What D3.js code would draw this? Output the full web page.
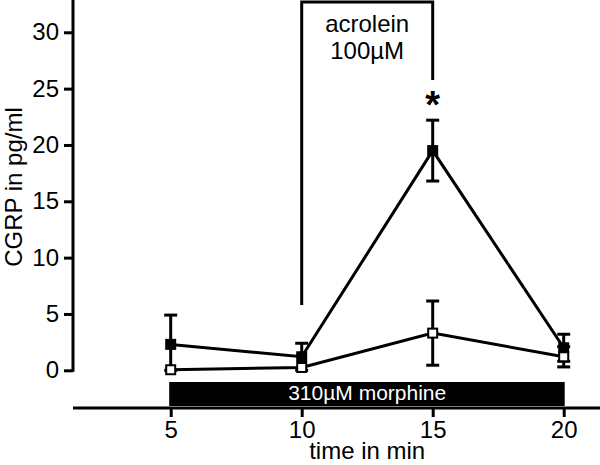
<!DOCTYPE html>
<html>
<head>
<meta charset="utf-8">
<script src="https://cdn.jsdelivr.net/npm/d3@7"></script>
<style>
  body { margin: 0; background: #fff; }
  svg { display: block; font-family: "Liberation Sans", Arial, sans-serif; }
</style>
</head>
<body>
<svg id="chart"></svg>
<script>
// time points (min)
const times = [5, 10, 15, 20]
// acrolein, filled squares
const acrolein = [2.3, 1.2, 19.5, 2.0]
const acroleinErr = [2.6, 1.2, 2.7, 1.2]
// control, open squares
const control = [0.05, 0.25, 3.3, 1.2]
const controlErr = [0, 0, 2.85, 0.9]
const yTicks = [0, 5, 10, 15, 20, 25, 30]

const w = 600, h = 465
const sw = 3
const svg = d3.select('#chart').attr('width', w).attr('height', h)

const x = d3.scaleLinear().domain([5, 20]).range([170.7, 563.7])
const y = d3.scaleLinear().domain([0, 30]).range([370.3, 32.3])

// y axis
const yAxis = d3.axisLeft(y).tickValues(yTicks).tickSize(9).tickPadding(5)
const gy = svg.append('g').attr('transform', 'translate(73,0)').call(yAxis)
gy.select('.domain').remove()
gy.append('line').attr('x1', 0).attr('x2', 0).attr('y1', 0).attr('y2', y(0) + 1.5)
  .attr('stroke', '#000').attr('stroke-width', sw)
gy.selectAll('.tick line').attr('stroke-width', sw)
gy.selectAll('.tick text').attr('font-size', 24).attr('fill', '#000')

// x axis
const xAxis = d3.axisBottom(x).tickValues(times).tickSize(9).tickPadding(4)
const gx = svg.append('g').attr('transform', 'translate(0,408)').call(xAxis)
gx.select('.domain').remove()
gx.append('line').attr('x1', 73).attr('x2', w).attr('y1', 0).attr('y2', 0)
  .attr('stroke', '#000').attr('stroke-width', sw)
gx.selectAll('.tick line').attr('stroke-width', sw)
gx.selectAll('.tick text').attr('font-size', 24).attr('fill', '#000')

svg.append('text').attr('x', x(12.5)).attr('y', 459).attr('text-anchor', 'middle')
  .attr('font-size', 24).text('time in min')
svg.append('text').attr('transform', `translate(22,${187}) rotate(-90)`)
  .attr('text-anchor', 'middle').attr('font-size', 24).text('CGRP in pg/ml')

// morphine bar
svg.append('rect').attr('x', x(5) - 1.5).attr('y', 382).attr('width', x(20) - x(5) + 2.5).attr('height', 24)
  .attr('fill', '#000')
svg.append('text').attr('x', x(12.5)).attr('y', 400).attr('text-anchor', 'middle')
  .attr('font-size', 21).attr('fill', '#fff').text('310µM morphine')

// acrolein bracket
svg.append('path')
  .attr('d', `M${x(10)},${y(5.8)}V2H${x(15)}V80`)
  .attr('fill', 'none').attr('stroke', '#000').attr('stroke-width', sw)
svg.append('text').attr('x', x(12.5)).attr('y', 32).attr('text-anchor', 'middle')
  .attr('font-size', 24).text('acrolein')
svg.append('text').attr('x', x(12.5)).attr('y', 59).attr('text-anchor', 'middle')
  .attr('font-size', 24).text('100µM')
svg.append('text').attr('x', x(15)).attr('y', 118).attr('text-anchor', 'middle')
  .attr('font-size', 38).attr('font-weight', 'bold').text('*')

const line = d3.line().x((d, i) => x(times[i])).y(d => y(d))

function drawSeries(vals, errs, fill) {
  const g = svg.append('g')
  vals.forEach((v, i) => {
    if (errs[i] <= 0) return
    const cx = x(times[i])
    const hi = y(v + errs[i]), lo = y(Math.max(v - errs[i], 0))
    g.append('line').attr('x1', cx).attr('x2', cx).attr('y1', hi).attr('y2', lo)
      .attr('stroke', '#000').attr('stroke-width', sw)
    g.append('line').attr('x1', cx - 6.5).attr('x2', cx + 6.5).attr('y1', hi).attr('y2', hi)
      .attr('stroke', '#000').attr('stroke-width', sw)
    g.append('line').attr('x1', cx - 6.5).attr('x2', cx + 6.5).attr('y1', lo).attr('y2', lo)
      .attr('stroke', '#000').attr('stroke-width', sw)
  })
  g.append('path').attr('d', line(vals)).attr('fill', 'none').attr('stroke', '#000').attr('stroke-width', sw)
  g.selectAll('rect').data(vals).join('rect')
    .attr('x', (d, i) => x(times[i]) - 4.5).attr('y', d => y(d) - 4.5)
    .attr('width', 9).attr('height', 9)
    .attr('fill', fill).attr('stroke', '#000').attr('stroke-width', 2)
}

drawSeries(acrolein, acroleinErr, '#000')
drawSeries(control, controlErr, '#fff')
</script>
</body>
</html>
